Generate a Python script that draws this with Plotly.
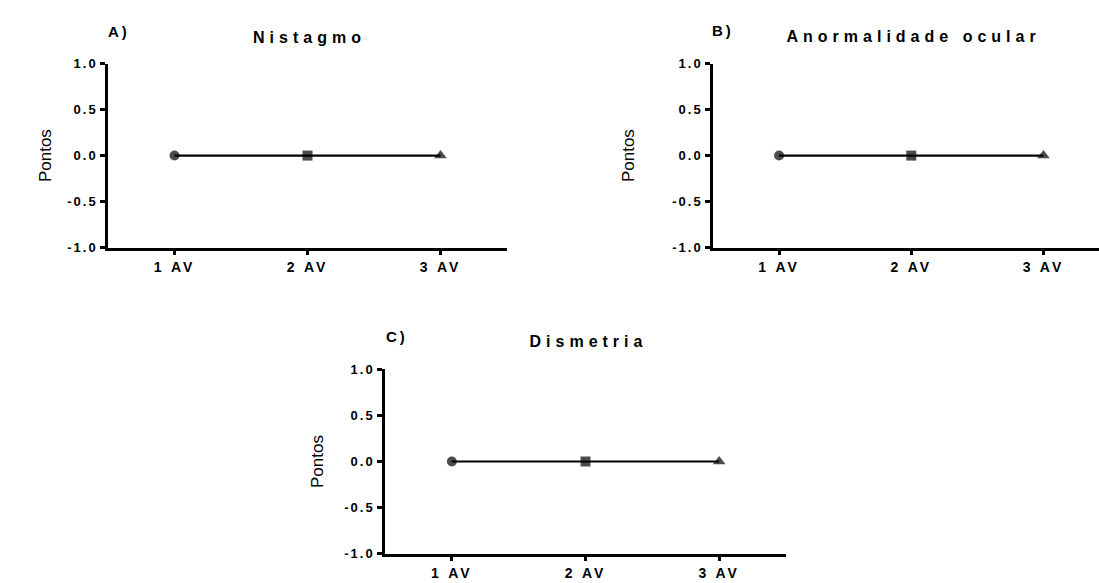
import plotly.graph_objects as go

W, H = 1099, 583

categories = ["1 AV", "2 AV", "3 AV"]
nistagmo = [0, 0, 0]
anormalidade = [0, 0, 0]
dismetria = [0, 0, 0]
titles = ["Nistagmo", "Anormalidade ocular", "Dismetria"]
panel_labels = ["A)", "B)", "C)"]
y_ticks = [-1.0, -0.5, 0.0, 0.5, 1.0]
y_tick_text = ["-1.0", "-0.5", "0.0", "0.5", "1.0"]
y_label = "Pontos"

symbols = ["circle", "square", "triangle-up"]

# panel geometry in pixels: (x0, x1, ytop, ybottom, xrange_max)
panels = [
    (108, 507, 58, 247, 2.5),
    (713, 1099, 58, 247, 2.42),
    (385, 786, 372, 561, 2.5),
]
series = [nistagmo, anormalidade, dismetria]

fig = go.Figure()
font_ytick = dict(family="Arial, Liberation Sans, sans-serif", size=13, color="black", weight="bold")
font_xtick = dict(family="Arial, Liberation Sans, sans-serif", size=14, color="black", weight="bold")

annotations = []
for i, ((x0, x1, yt, yb, xmax), vals) in enumerate(zip(panels, series)):
    n = "" if i == 0 else str(i + 1)
    fig.add_trace(go.Scatter(
        x=categories, y=vals, mode="lines+markers",
        line=dict(color="black", width=2.2),
        marker=dict(symbol=symbols, size=[10, 10, 11], color="black",
                    line=dict(width=0)),
        xaxis="x" + n, yaxis="y" + n, showlegend=False, cliponaxis=False,
    ))
    xd = [x0 / W, x1 / W]
    yd = [(H - yb) / H, (H - yt) / H]
    fig.update_layout(**{
        "xaxis" + n: dict(domain=xd, range=[-0.5, xmax], type="category",
                          anchor="y" + n, showline=True, linecolor="black", linewidth=2.5,
                          ticks="outside", ticklen=5, tickwidth=2.5, tickcolor="black",
                          showgrid=False, zeroline=False, tickfont=font_xtick),
        "yaxis" + n: dict(domain=yd, range=[-1, 1], anchor="x" + n,
                          tickvals=y_ticks, ticktext=y_tick_text,
                          showline=True, linecolor="black", linewidth=2.5,
                          ticks="outside", ticklen=5, tickwidth=2.5, tickcolor="black",
                          showgrid=False, zeroline=False, tickfont=font_ytick),
    })

# titles, panel letters, y labels (pixel positions)
title_pos = [(309, 31), (913, 30), (588, 343)]
letter_pos = [(119, 25), (723, 24), (397, 338)]
ylabel_pos = [(45, 153), (628, 153), (318, 467)]
for i in range(3):
    tx, ty = title_pos[i]
    annotations.append(dict(x=tx / W, y=(H - ty) / H, xref="paper", yref="paper",
                            text="<b>%s</b>" % titles[i], showarrow=False,
                            xanchor="center", yanchor="middle",
                            font=dict(family="Arial, Liberation Sans, sans-serif", size=16, color="black")))
    lx, ly = letter_pos[i]
    annotations.append(dict(x=lx / W, y=(H - ly) / H, xref="paper", yref="paper",
                            text="<b>%s</b>" % panel_labels[i], showarrow=False,
                            xanchor="center", yanchor="middle",
                            font=dict(family="Arial, Liberation Sans, sans-serif", size=15, color="black")))
    px, py = ylabel_pos[i]
    annotations.append(dict(x=px / W, y=(H - py) / H, xref="paper", yref="paper",
                            text=y_label, showarrow=False, textangle=-90,
                            xanchor="center", yanchor="middle",
                            font=dict(family="Liberation Sans Narrow, Arial Narrow, Arial, sans-serif", size=17, color="black")))

fig.update_layout(
    width=W, height=H, margin=dict(l=0, r=0, t=0, b=0),
    paper_bgcolor="white", plot_bgcolor="white",
    annotations=annotations,
)

post = """
var gd = document.getElementById('{plot_id}');
function sp(){
  gd.querySelectorAll('.yaxislayer-above text').forEach(function(t){t.style.letterSpacing='2px';});
  gd.querySelectorAll('.xaxislayer-above text').forEach(function(t){t.style.letterSpacing='3px';});
  gd.querySelectorAll('.annotation-text').forEach(function(t){
    var s = t.textContent;
    if (s.length > 3 && s !== 'Pontos') t.style.letterSpacing='5px';
    if (s.length <= 2) t.style.letterSpacing='3px';
  });
}
sp();
gd.on('plotly_afterplot', sp);
"""
fig.write_html("out.html", post_script=post)
